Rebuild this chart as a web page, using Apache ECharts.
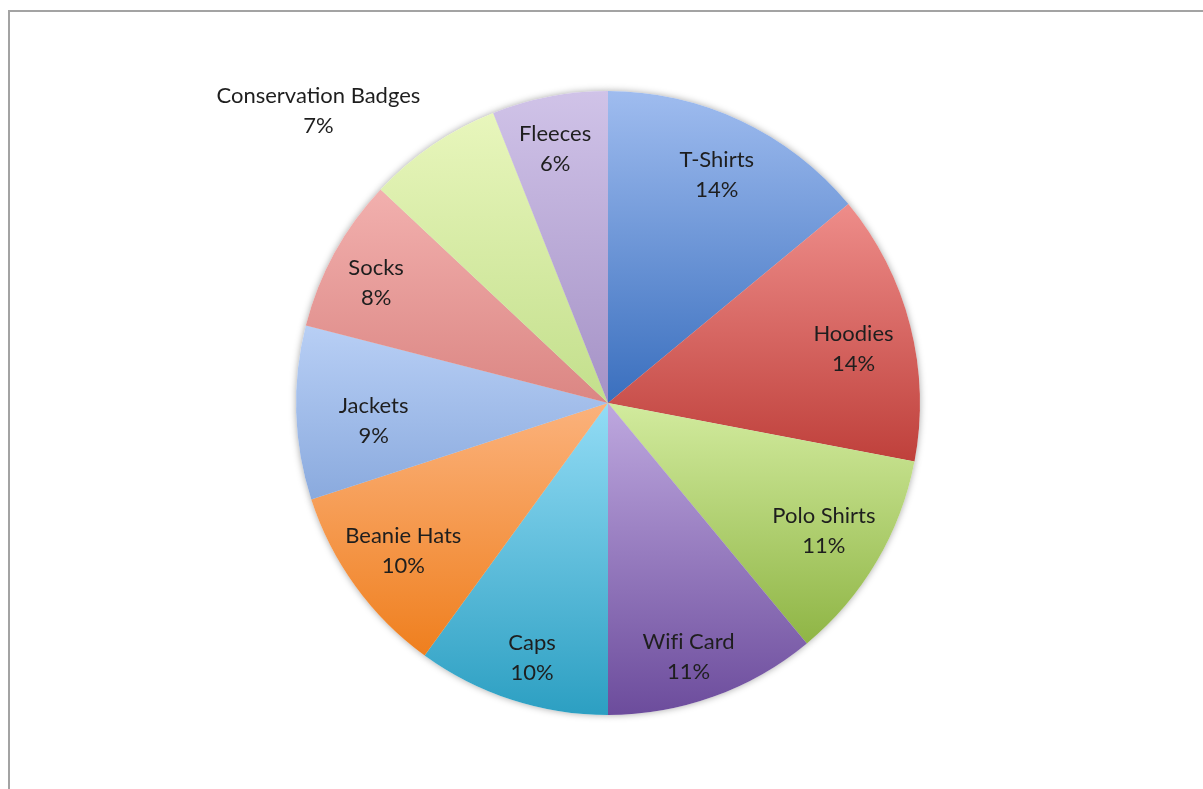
<!DOCTYPE html>
<html>
<head>
<meta charset="utf-8">
<script src="https://cdn.jsdelivr.net/npm/echarts@6/dist/echarts.min.js"></script>
<style>
html,body{margin:0;padding:0;background:#fff;}
#chart{width:1203px;height:789px;}
</style>
</head>
<body>
<div id="chart"></div>
<script>
// ---- data ----
var categories = ['T-Shirts','Hoodies','Polo Shirts','Wifi Card','Caps','Beanie Hats','Jackets','Socks','Conservation Badges','Fleeces'];
var values = [14,14,11,11,10,10,9,8,7,6];
var colorTop = ['#9fbcef','#ee8d8a','#d2eb9e','#bea8df','#93dcf5','#fbb27c','#b8cff5','#f2b0ae','#e8f6bc','#d0c3e8'];
var colorBottom = ['#3a6fbe','#bf403b','#8fb545','#6c4c9c','#2c9fc2','#ef7f1e','#8aaade','#db8683','#c3df8c','#a592c6'];
// label nudges (style offsets, px)
var labelNudge = {
  'T-Shirts':[0,3], 'Hoodies':[-2,9], 'Polo Shirts':[-4,-2], 'Wifi Card':[-6,14], 'Caps':[3,12],
  'Beanie Hats':[2,-2], 'Jackets':[21,10], 'Socks':[-8,3], 'Conservation Badges':[-146,-81], 'Fleeces':[-5,-3]
};

var chart = echarts.init(document.getElementById('chart'), null, {renderer:'canvas'});

var R = 312;
var CENTER = [608, 403];

function grad(i){
  return new echarts.graphic.LinearGradient(0,0,0,1,[
    {offset:0,color:colorTop[i]},{offset:1,color:colorBottom[i]}
  ]);
}

var mainData = categories.map(function(c,i){
  return {name:c, value:values[i], itemStyle:{color:grad(i)}};
});
var shadowData = categories.map(function(c,i){
  return {name:c, value:values[i]};
});
var labelData = categories.map(function(c,i){
  return {name:c, value:values[i], label:{offset:labelNudge[c] || [0,0]}};
});

chart.setOption({
  backgroundColor:'#ffffff',
  animation:false,
  graphic:[{
    type:'rect', silent:true, z:-10,
    shape:{x:9, y:11, width:1400, height:1000},
    style:{fill:'none', stroke:'#a3a3a3', lineWidth:2}
  }],
  series:[
    {
      type:'pie', silent:true, center:CENTER, radius:R, startAngle:90, clockwise:true,
      data:shadowData, label:{show:false}, labelLine:{show:false},
      itemStyle:{color:'#ffffff', shadowBlur:7, shadowColor:'rgba(0,0,0,0.35)', borderWidth:0}
    },
    {
      type:'pie', silent:true, center:CENTER, radius:R, startAngle:90, clockwise:true,
      data:mainData, label:{show:false}, labelLine:{show:false},
      itemStyle:{borderWidth:0}
    },
    {
      type:'pie', silent:true, center:CENTER, radius:[193, R], startAngle:90, clockwise:true,
      data:labelData,
      itemStyle:{color:'rgba(0,0,0,0)', borderWidth:0},
      labelLine:{show:false},
      label:{
        show:true, position:'inside',
        fontFamily:'Lato', fontSize:22, lineHeight:30, color:'#1e1e1e',
        align:'center',
        formatter:function(p){ return p.name.replace('fi','f\u200Ci') + '\n' + Math.round(p.percent) + '%'; }
      }
    }
  ]
});
</script>
</body>
</html>
